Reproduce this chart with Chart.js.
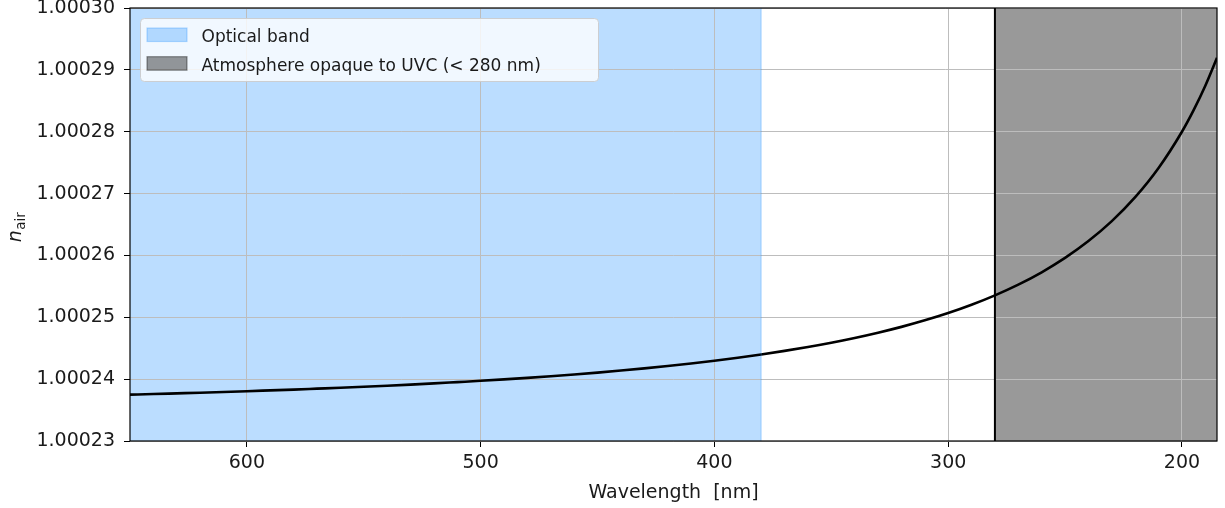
<!DOCTYPE html>
<html>
<head>
<meta charset="utf-8">
<script src="https://cdn.jsdelivr.net/npm/chart.js@4.4.1/dist/chart.umd.min.js"></script>
<style>
  html, body { margin: 0; padding: 0; background: #ffffff; }
  #wrap { width: 1225px; height: 508px; }
</style>
</head>
<body>
<div id="wrap"><canvas id="chart" width="1225" height="508"></canvas></div>
<script>
// Refractive index of air versus wavelength (nm)
const wavelengths = [650, 640, 630, 620, 610, 600, 590, 580, 570, 560, 550, 540, 530, 520, 510,
                     500, 490, 480, 470, 460, 450, 440, 430, 420, 410, 400, 390, 380, 370, 360,
                     350, 340, 330, 320, 310, 300, 290, 280, 270, 260, 250, 240, 230, 220, 210,
                     200, 195, 190, 185];
const nAir = [1.00023749, 1.00023759, 1.00023770, 1.00023781, 1.00023793, 1.00023805, 1.00023818,
              1.00023831, 1.00023846, 1.00023861, 1.00023877, 1.00023894, 1.00023912, 1.00023931,
              1.00023952, 1.00023973, 1.00023996, 1.00024021, 1.00024048, 1.00024076, 1.00024106,
              1.00024139, 1.00024174, 1.00024212, 1.00024253, 1.00024298, 1.00024346, 1.00024399,
              1.00024457, 1.00024520, 1.00024589, 1.00024666, 1.00024751, 1.00024845, 1.00024951,
              1.00025069, 1.00025203, 1.00025355, 1.00025528, 1.00025728, 1.00025960, 1.00026232,
              1.00026554, 1.00026941, 1.00027413, 1.00027999, 1.00028348, 1.00028743, 1.00029194];

// Shaded wavelength bands [start, end] in nm
const opticalBand = [650, 380];
const uvcBand = [280, 185];

// Axis limits and ticks
const xLimits = [185, 650];
const yLimits = [1.00023, 1.00030];
const xTicks = [600, 500, 400, 300, 200];
const yTicks = [1.00023, 1.00024, 1.00025, 1.00026, 1.00027, 1.00028, 1.00029, 1.00030];

const legendLabels = ['Optical band', 'Atmosphere opaque to UVC (< 280 nm)'];
const xTitle = 'Wavelength  [nm]';

const FONT = "'DejaVu Sans', sans-serif";
const TEXT = '#1a1a1a';
const GRID = '#bdbdbd';
const opticalFill = 'rgba(30,144,255,0.3)';
const uvcFill = 'rgba(0,0,0,0.4)';

function spanTop(band) {
  return [{ x: band[0], y: yLimits[1] }, { x: band[1], y: yLimits[1] }];
}
function vertical(x) {
  return [{ x: x, y: yLimits[0] }, { x: x, y: yLimits[1] }];
}

// Frame around the plotting area
const framePlugin = {
  id: 'frame',
  afterDatasetsDraw(chart) {
    const { ctx, chartArea: a } = chart;
    ctx.save();
    ctx.strokeStyle = '#000';
    ctx.lineWidth = 1.2;
    ctx.strokeRect(a.left, a.top, a.right - a.left, a.bottom - a.top);
    ctx.restore();
  }
};

// Legend box in the upper-left corner of the plot
const boxLegendPlugin = {
  id: 'boxLegend',
  afterDraw(chart) {
    const { ctx, chartArea: a } = chart;
    const x0 = a.left + 10.5, y0 = a.top + 10.5, w = 458, h = 63;
    ctx.save();
    ctx.beginPath();
    ctx.roundRect(x0, y0, w, h, 4);
    ctx.fillStyle = 'rgba(255,255,255,0.8)';
    ctx.fill();
    ctx.strokeStyle = 'rgba(204,204,204,0.9)';
    ctx.lineWidth = 1;
    ctx.stroke();
    const items = [chart.data.datasets[0], chart.data.datasets[1]];
    ctx.font = '17px ' + FONT;
    ctx.textBaseline = 'alphabetic';
    items.forEach((ds, i) => {
      const sy = y0 + 9.5 + i * 28.7;
      ctx.fillStyle = ds.backgroundColor;
      ctx.fillRect(x0 + 6.5, sy, 40, 13.5);
      ctx.strokeStyle = ds.backgroundColor;
      ctx.lineWidth = 1.2;
      ctx.strokeRect(x0 + 6.5, sy, 40, 13.5);
      ctx.fillStyle = TEXT;
      ctx.fillText(ds.label, x0 + 61, y0 + 23 + i * 29.2);
    });
    ctx.restore();
  }
};

// Y-axis label: italic n with subscript "air"
const yLabelPlugin = {
  id: 'yLabel',
  afterDraw(chart) {
    const { ctx, chartArea: a } = chart;
    ctx.save();
    ctx.translate(21, (a.top + a.bottom) / 2 + 3);
    ctx.rotate(-Math.PI / 2);
    ctx.fillStyle = TEXT;
    ctx.textBaseline = 'alphabetic';
    ctx.font = 'italic 19px ' + FONT;
    const nW = ctx.measureText('n').width;
    ctx.font = '13.5px ' + FONT;
    const subW = ctx.measureText('air').width;
    const start = -(nW + subW) / 2;
    ctx.font = 'italic 19px ' + FONT;
    ctx.fillText('n', start, 0);
    ctx.font = '13.5px ' + FONT;
    ctx.fillText('air', start + nW + 0.5, 4);
    ctx.restore();
  }
};

new Chart(document.getElementById('chart'), {
  type: 'line',
  data: {
    datasets: [
      {
        label: legendLabels[0],
        data: spanTop(opticalBand),
        fill: 'start',
        backgroundColor: opticalFill,
        borderWidth: 0,
        pointRadius: 0
      },
      {
        label: legendLabels[1],
        data: spanTop(uvcBand),
        fill: 'start',
        backgroundColor: uvcFill,
        borderWidth: 0,
        pointRadius: 0
      },
      {
        label: 'optical edge',
        data: vertical(opticalBand[1]),
        borderColor: opticalFill,
        borderWidth: 1.2,
        pointRadius: 0,
        fill: false
      },
      {
        label: 'uvc edge',
        data: vertical(uvcBand[0]),
        borderColor: '#000',
        borderWidth: 2,
        pointRadius: 0,
        fill: false
      },
      {
        label: 'n_air',
        data: wavelengths.map((w, i) => ({ x: w, y: nAir[i] })),
        borderColor: '#000',
        borderWidth: 2.6,
        pointRadius: 0,
        fill: false,
        cubicInterpolationMode: 'monotone'
      }
    ]
  },
  options: {
    responsive: false,
    animation: false,
    devicePixelRatio: 1,
    events: [],
    layout: { padding: { top: 8, right: 8, left: 0, bottom: 0 } },
    plugins: {
      legend: { display: false },
      tooltip: { enabled: false },
      filler: { drawTime: 'beforeDraw' }
    },
    scales: {
      x: {
        type: 'linear',
        reverse: true,
        min: xLimits[0],
        max: xLimits[1],
        afterBuildTicks: (s) => { s.ticks = xTicks.map(v => ({ value: v })); },
        afterFit: (s) => { s.height = 67; s.paddingLeft = 0; s.paddingRight = 0; },
        border: { display: false },
        grid: { color: GRID, lineWidth: 1, drawTicks: true, tickLength: 6, tickColor: '#000', tickWidth: 1 },
        ticks: {
          font: { family: FONT, size: 19 }, color: TEXT, padding: 5,
          maxRotation: 0, autoSkip: false,
          callback: (v) => String(v)
        },
        title: {
          display: true, text: xTitle,
          font: { family: FONT, size: 19 }, color: TEXT,
          padding: { top: 0, bottom: 4 }
        }
      },
      y: {
        type: 'linear',
        min: yLimits[0],
        max: yLimits[1],
        afterBuildTicks: (s) => { s.ticks = yTicks.map(v => ({ value: v })); },
        afterFit: (s) => { s.width = 130; s.paddingTop = 0; s.paddingBottom = 0; },
        border: { display: false },
        grid: { color: GRID, lineWidth: 1, drawTicks: true, tickLength: 6, tickColor: '#000', tickWidth: 1 },
        ticks: {
          font: { family: FONT, size: 19 }, color: TEXT, padding: 9,
          autoSkip: false,
          callback: (v) => Number(v).toFixed(5)
        }
      }
    }
  },
  plugins: [framePlugin, boxLegendPlugin, yLabelPlugin]
});
</script>
</body>
</html>
